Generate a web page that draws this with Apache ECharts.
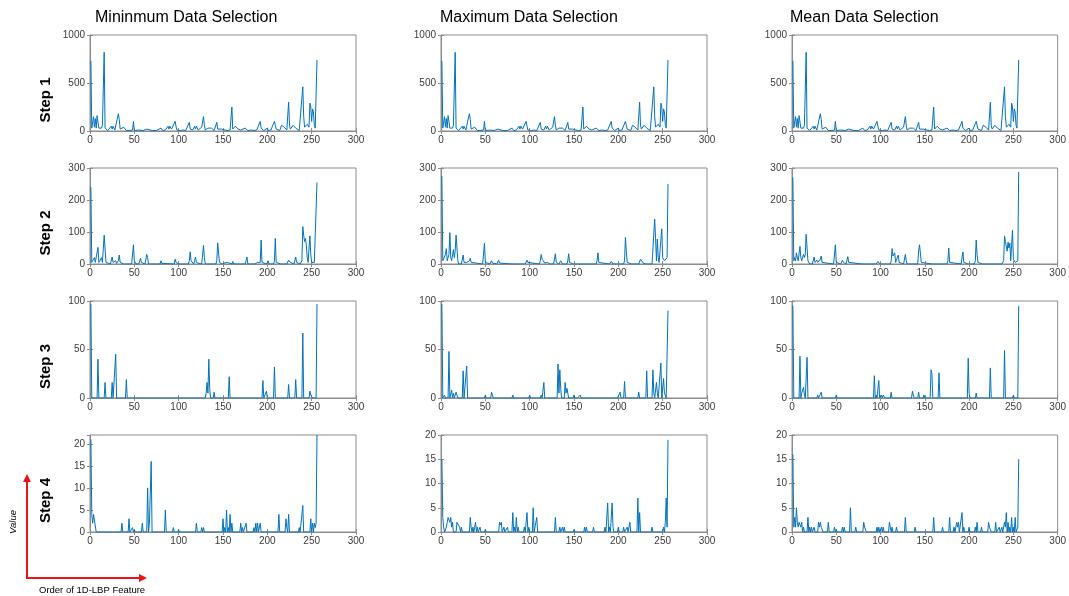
<!DOCTYPE html>
<html>
<head>
<meta charset="utf-8">
<script src="https://cdn.jsdelivr.net/npm/echarts@6/dist/echarts.min.js"></script>
<style>html,body{margin:0;padding:0;background:#fff}#c{width:1069px;height:596px}</style>
</head>
<body>
<div id="c"></div>
<script>
// ---------- DATA ----------
const columnTitles = ['Mininmum Data Selection', 'Maximum Data Selection', 'Mean Data Selection'];
const rowLabels = ['Step 1', 'Step 2', 'Step 3', 'Step 4'];
const xMax = 300, xStep = 50;
const yMaxes = [[1000, 1000, 1000], [300, 300, 300], [100, 100, 100], [22, 20, 20]];
const ySteps = [500, 100, 50, 5];

// Step 1 (identical in the three selections)
const step1 = [[1,730],[2,30],[3,20],[4,150],[5,40],[6,130],[7,30],[8,160],[9,170],[10,30],[11,40],[12,50],[13,30],[14,60],[15,40],[16,820],[17,30],[18,10],[20,5],[22,10],[24,50],[25,20],[26,50],[27,40],[28,10],[30,10],[32,180],[33,120],[34,20],[36,10],[38,40],[39,20],[40,30],[41,5],[44,5],[48,10],[49,100],[50,5],[55,10],[60,5],[64,20],[65,25],[66,5],[70,5],[75,5],[80,30],[81,35],[82,5],[85,10],[88,50],[89,20],[90,50],[91,60],[92,20],[94,30],[96,100],[97,50],[98,10],[100,20],[102,5],[105,10],[108,5],[112,90],[113,20],[114,10],[116,10],[118,50],[119,20],[120,50],[121,30],[122,10],[124,30],[126,40],[128,150],[129,60],[130,10],[132,20],[133,30],[135,20],[137,30],[138,10],[140,5],[143,90],[144,20],[145,5],[148,20],[150,5],[152,10],[155,5],[158,10],[160,250],[161,20],[162,10],[164,50],[165,30],[166,40],[167,20],[168,30],[170,10],[172,10],[175,30],[176,40],[177,20],[178,5],[182,10],[185,5],[188,10],[190,20],[192,100],[193,30],[194,10],[196,5],[198,10],[200,30],[201,5],[204,10],[206,20],[208,100],[209,60],[210,20],[212,10],[214,5],[216,60],[217,40],[218,60],[219,40],[220,30],[222,10],[224,300],[225,60],[226,20],[228,40],[229,60],[230,50],[231,70],[232,30],[234,10],[236,5],[238,10],[240,460],[241,150],[242,40],[243,60],[244,50],[245,70],[246,50],[247,40],[248,290],[249,250],[250,100],[251,230],[252,200],[253,60],[254,30],[255,40],[256,740]];

const step2Min = [[1,240],[2,5],[3,5],[4,10],[5,20],[6,5],[7,0],[8,5],[9,52],[10,5],[11,0],[12,5],[13,20],[14,5],[15,10],[16,90],[17,85],[18,5],[19,0],[23,0],[24,5],[25,22],[26,5],[27,0],[28,0],[29,10],[30,2],[31,5],[32,10],[33,28],[34,5],[35,0],[38,0],[39,5],[40,0],[47,0],[48,5],[49,60],[50,10],[51,8],[52,0],[55,0],[56,5],[57,18],[58,5],[59,0],[62,0],[63,5],[64,30],[65,20],[66,0],[79,0],[80,10],[81,2],[82,0],[95,0],[96,15],[97,5],[98,8],[99,2],[100,0],[111,0],[112,10],[113,38],[114,10],[115,15],[116,5],[117,0],[118,10],[119,22],[120,5],[121,0],[122,8],[123,2],[124,0],[126,0],[127,5],[128,58],[129,20],[130,0],[142,0],[143,10],[144,66],[145,65],[146,5],[147,0],[149,0],[150,5],[151,0],[152,3],[153,0],[154,0],[155,5],[156,0],[160,0],[161,8],[162,0],[175,0],[176,10],[177,22],[178,0],[186,0],[187,5],[188,0],[189,5],[190,0],[191,0],[192,5],[193,75],[194,5],[195,0],[199,0],[200,5],[201,10],[202,0],[207,0],[208,10],[209,80],[210,5],[211,0],[215,0],[216,5],[217,0],[222,0],[223,5],[224,12],[225,18],[226,5],[227,0],[230,0],[231,5],[232,22],[233,5],[234,0],[237,0],[238,5],[239,10],[240,117],[241,90],[242,70],[243,80],[244,60],[245,20],[246,5],[247,0],[248,88],[249,30],[250,5],[251,10],[252,8],[253,5],[254,10],[255,5],[256,255]];
const step2Max = [[1,275],[2,10],[3,5],[4,10],[5,30],[6,48],[7,10],[8,5],[9,30],[10,98],[11,20],[12,10],[13,15],[14,45],[15,20],[16,40],[17,90],[18,85],[19,10],[20,0],[23,0],[24,5],[25,28],[26,5],[27,0],[28,0],[29,5],[30,8],[31,3],[32,10],[33,18],[34,5],[35,0],[47,0],[48,5],[49,65],[50,5],[51,0],[55,0],[56,5],[57,10],[58,3],[59,0],[63,0],[64,5],[65,12],[66,3],[67,0],[80,0],[81,3],[82,0],[95,0],[96,5],[97,12],[98,5],[99,8],[100,0],[111,0],[112,10],[113,30],[114,15],[115,10],[116,12],[117,3],[118,0],[119,0],[120,5],[121,10],[122,3],[123,0],[127,0],[128,5],[129,32],[130,5],[131,0],[133,0],[134,5],[135,10],[136,5],[137,0],[142,0],[143,10],[144,32],[145,5],[146,0],[149,0],[150,5],[151,0],[158,0],[159,3],[160,5],[161,0],[175,0],[176,10],[177,35],[178,5],[179,0],[190,0],[191,3],[192,8],[193,3],[194,0],[198,0],[199,3],[200,5],[201,0],[206,0],[207,10],[208,83],[209,40],[210,5],[211,0],[215,0],[216,3],[217,0],[223,0],[224,5],[225,15],[226,10],[227,10],[228,3],[229,5],[230,5],[231,0],[232,5],[233,3],[234,0],[238,0],[239,5],[240,5],[241,140],[242,80],[243,10],[244,78],[245,20],[246,5],[247,0],[248,5],[249,110],[250,20],[251,15],[252,10],[253,10],[254,8],[255,20],[256,250]];
const step2Mean = [[1,270],[2,10],[3,20],[4,10],[5,35],[6,20],[7,10],[8,5],[9,55],[10,20],[11,10],[12,5],[13,30],[14,20],[15,30],[16,93],[17,88],[18,10],[19,5],[20,0],[23,0],[24,5],[25,22],[26,5],[27,5],[28,12],[29,5],[30,10],[31,5],[32,15],[33,25],[34,5],[35,0],[47,0],[48,5],[49,60],[50,5],[51,0],[55,0],[56,5],[57,12],[58,5],[59,3],[60,0],[61,0],[62,5],[63,23],[64,5],[65,0],[79,0],[80,3],[81,5],[82,0],[95,0],[96,5],[97,8],[98,3],[99,0],[100,5],[101,5],[102,0],[111,0],[112,10],[113,48],[114,25],[115,20],[116,35],[117,5],[118,0],[119,10],[120,28],[121,5],[122,0],[126,0],[127,5],[128,30],[129,10],[130,0],[142,0],[143,40],[144,60],[145,58],[146,5],[147,0],[158,0],[159,3],[160,5],[161,0],[175,0],[176,10],[177,50],[178,5],[179,0],[191,0],[192,5],[193,38],[194,5],[195,0],[199,0],[200,3],[201,5],[202,0],[206,0],[207,10],[208,75],[209,30],[210,5],[211,0],[215,0],[216,3],[217,5],[218,0],[223,0],[224,3],[225,5],[226,0],[237,0],[238,5],[239,10],[240,88],[241,70],[242,65],[243,40],[244,68],[245,50],[246,65],[247,10],[248,5],[249,105],[250,15],[251,10],[252,5],[253,5],[254,8],[255,10],[256,288]];

const step3Min = [[1,97],[2,0],[8,0],[9,40],[10,0],[16,0],[17,16],[18,0],[24,0],[25,16],[26,0],[28,0],[29,45],[30,0],[40,0],[41,19],[42,0],[49,0],[50,2],[51,0],[56,0],[57,2],[58,0],[60,0],[61,2],[62,0],[115,0],[116,2],[117,0],[130,0],[131,5],[132,16],[133,5],[134,40],[135,10],[136,0],[139,0],[140,6],[141,0],[147,0],[148,2],[149,2],[150,0],[156,0],[157,22],[158,0],[194,0],[195,18],[196,0],[198,0],[199,7],[200,0],[207,0],[208,32],[209,0],[223,0],[224,14],[225,0],[231,0],[232,19],[233,0],[239,0],[240,67],[241,0],[247,0],[248,7],[249,3],[250,2],[251,0],[255,0],[256,97]];
const step3Max = [[1,97],[2,0],[3,0],[4,3],[5,0],[6,2],[7,0],[8,0],[9,48],[10,0],[11,0],[12,8],[13,0],[14,5],[15,0],[16,0],[17,6],[18,3],[19,0],[24,0],[25,28],[26,0],[28,0],[29,33],[30,0],[40,0],[41,2],[42,0],[49,0],[50,3],[51,0],[56,0],[57,6],[58,5],[59,0],[80,0],[81,3],[82,0],[99,0],[100,3],[101,0],[112,0],[113,3],[114,0],[115,0],[116,16],[117,0],[120,0],[121,2],[122,0],[123,0],[124,2],[125,0],[131,0],[132,35],[133,5],[134,29],[135,10],[136,0],[139,0],[140,16],[141,5],[142,10],[143,9],[144,0],[149,0],[150,3],[151,0],[152,0],[153,2],[154,0],[156,0],[157,3],[158,0],[199,0],[200,2],[201,0],[202,6],[203,0],[206,0],[207,17],[208,0],[222,0],[223,6],[224,0],[231,0],[232,28],[233,0],[238,0],[239,29],[240,5],[241,0],[242,0],[243,16],[244,5],[245,0],[247,0],[248,36],[249,0],[250,0],[251,20],[252,5],[253,3],[254,0],[255,0],[256,90]];
const step3Mean = [[1,95],[2,0],[3,2],[4,0],[8,0],[9,43],[10,0],[11,5],[12,3],[13,11],[14,3],[15,0],[16,0],[17,42],[18,0],[19,0],[20,2],[21,0],[28,0],[29,3],[30,0],[32,0],[33,6],[34,0],[44,0],[45,2],[46,0],[49,0],[50,3],[51,0],[72,0],[73,1],[74,0],[75,0],[76,1],[77,0],[92,0],[93,23],[94,0],[95,3],[96,0],[97,0],[98,18],[99,0],[100,0],[101,3],[102,0],[103,3],[104,3],[105,0],[111,0],[112,6],[113,0],[135,0],[136,7],[137,3],[138,0],[142,0],[143,6],[144,0],[148,0],[149,3],[150,0],[156,0],[157,29],[158,25],[159,0],[165,0],[166,26],[167,0],[172,0],[173,2],[174,0],[195,0],[196,2],[197,0],[198,0],[199,41],[200,5],[201,0],[207,0],[208,5],[209,0],[223,0],[224,31],[225,0],[230,0],[231,2],[232,0],[239,0],[240,49],[241,0],[249,0],[250,3],[251,0],[252,2],[253,0],[255,0],[256,95]];

const step4Min = [[1,21],[2,4],[3,2],[4,4],[5,4],[6,4],[7,0],[35,0],[36,2],[37,0],[43,0],[44,3],[45,0],[47,0],[48,1],[49,0],[50,0.5],[51,0],[58,0],[59,2],[60,0],[64,0],[65,10],[66,0],[67,2],[68,2],[69,16],[70,0],[84,0],[85,5],[86,0],[93,0],[94,1],[95,0],[99,0],[100,0.5],[101,0],[119,0],[120,2],[121,0],[125,0],[126,1],[127,0],[128,1],[129,0],[149,0],[150,3],[151,0],[152,1],[153,0],[154,5],[155,0],[156,1],[157,0],[158,4],[159,0],[160,2],[161,0],[169,0],[170,2],[171,0],[172,1],[173,0],[175,0],[176,2],[177,0],[184,0],[185,1],[186,0],[187,2],[188,0],[189,2],[190,0],[191,0],[192,2],[193,0],[212,0],[213,4],[214,0],[220,0],[221,3],[222,1],[223,0],[224,4],[225,0],[235,0],[236,1],[237,0],[239,0],[240,6],[241,0],[248,0],[249,3],[250,0],[251,2],[252,0],[253,2],[254,1],[255,2],[256,22]];
const step4Max = [[1,15],[2,3],[3,1],[4,0],[5,0],[6,1],[7,2],[8,3],[9,3],[10,2],[11,3],[12,1],[13,2],[14,0],[17,0],[18,2],[19,2],[20,2],[21,1],[22,0],[23,1],[24,0],[32,0],[33,3],[34,1],[35,0],[36,1],[37,0],[38,1],[39,2],[40,0],[41,1],[42,0],[43,0],[44,1],[45,0],[49,0],[50,0.5],[51,0],[65,0],[66,2],[67,1.5],[68,2],[69,0],[70,0],[71,1],[72,0],[74,0],[75,1],[76,0],[80,0],[81,4],[82,0],[83,1],[84,0],[85,3],[86,0],[87,1],[88,0],[93,0],[94,1],[95,0],[96,0],[97,4],[98,0],[99,1],[100,0],[103,0],[104,5],[105,0],[107,0],[108,3],[109,0],[128,0],[129,3],[130,0],[133,0],[134,1],[135,0],[136,0],[137,1],[138,0],[139,1],[140,0],[149,0],[150,0.5],[151,0],[161,0],[162,1],[163,0],[164,1],[165,0],[171,0],[172,1],[173,0],[184,0],[185,1],[186,0],[187,0],[188,6],[189,0],[190,1],[191,0],[192,0],[193,6],[194,1],[195,0],[199,0],[200,1],[201,0],[205,0],[206,1],[207,0],[209,0],[210,1],[211,0],[212,0],[213,2],[214,0],[221,0],[222,7],[223,0],[224,4],[225,0],[237,0],[238,1],[239,0],[250,0],[251,1],[252,0],[253,2],[254,7],[255,1],[256,19]];
const step4Mean = [[1,16],[2,1],[3,3],[4,1],[5,5],[6,2],[7,1],[8,2],[9,2],[10,1],[11,2],[12,0],[13,1],[14,0],[17,0],[18,3],[19,0],[20,1],[21,0],[22,1],[23,0],[24,0],[25,1],[26,0],[29,0],[30,2],[31,1],[32,2],[33,1],[34,1],[35,0],[40,0],[41,2],[42,0],[47,0],[48,1],[49,0],[50,0.5],[51,0],[56,0],[57,1],[58,0],[59,1],[60,0],[65,0],[66,5],[67,0],[71,0],[72,1],[73,0],[80,0],[81,2],[82,1],[83,1],[84,0],[95,0],[96,1],[97,0],[98,1],[99,0],[100,0],[101,1],[102,0],[103,1],[104,0],[109,0],[110,2],[111,1],[112,0],[113,1],[114,0],[117,0],[118,1],[119,0],[127,0],[128,3],[129,0],[138,0],[139,1],[140,0],[159,0],[160,3],[161,0],[169,0],[170,1],[171,0],[177,0],[178,3],[179,0],[182,0],[183,1],[184,0],[185,0],[186,2],[187,1],[188,2],[189,0],[191,0],[192,4],[193,0],[194,1],[195,0],[199,0],[200,1],[201,0],[206,0],[207,1],[208,0],[209,2],[210,0],[213,0],[214,1],[215,0],[221,0],[222,2],[223,1],[224,1],[225,0],[229,0],[230,2],[231,0],[233,0],[234,1],[235,0],[236,0],[237,1],[238,0],[239,0],[240,2],[241,1],[242,4],[243,0],[244,2],[245,0],[246,1],[247,0],[248,3],[249,0],[250,1],[251,0],[252,3],[253,0],[254,0],[255,1],[256,15]];

const seriesByCell = [
  [step1, step1, step1],
  [step2Min, step2Max, step2Mean],
  [step3Min, step3Max, step3Mean],
  [step4Min, step4Max, step4Mean]
];

// ---------- LAYOUT ----------
const colLeft = [90, 441, 792];
const colWidth = [266, 266, 267];
const rowTop = [35, 168, 301, 435];
const rowHeight = [96, 96, 97, 97];
const LINE = '#0072BD';
const AXIS = '#8c8c8c';
const LABEL = '#3a3a3a';
const FONT = '"Liberation Sans", Arial, sans-serif';

const grid = [], xAxis = [], yAxis = [], series = [];
let g = 0;
for (let r = 0; r < 4; r++) {
  for (let c = 0; c < 3; c++) {
    grid.push({left: colLeft[c], top: rowTop[r], width: colWidth[c], height: rowHeight[r],
      show: true, borderColor: AXIS, borderWidth: 1, backgroundColor: '#fff'});
    const tickStyle = {show: true, inside: true, length: 3, lineStyle: {color: AXIS}};
    const lbl = {color: LABEL, fontSize: 10, fontFamily: FONT, formatter: v => String(v)};
    xAxis.push({gridIndex: g, type: 'value', min: 0, max: xMax, interval: xStep,
      axisLine: {show: true, onZero: false, lineStyle: {color: AXIS}},
      axisTick: tickStyle, splitLine: {show: false},
      axisLabel: Object.assign({margin: 4}, lbl)});
    xAxis.push({gridIndex: g, type: 'value', position: 'top', min: 0, max: xMax, interval: xStep,
      axisLine: {show: false}, axisTick: tickStyle, splitLine: {show: false}, axisLabel: {show: false}});
    yAxis.push({gridIndex: g, type: 'value', min: 0, max: yMaxes[r][c], interval: ySteps[r],
      axisLine: {show: true, onZero: false, lineStyle: {color: AXIS}},
      axisTick: tickStyle, splitLine: {show: false},
      axisLabel: Object.assign({margin: 5, showMaxLabel: yMaxes[r][c] % ySteps[r] === 0}, lbl)});
    yAxis.push({gridIndex: g, type: 'value', position: 'right', min: 0, max: yMaxes[r][c], interval: ySteps[r],
      axisLine: {show: false}, axisTick: tickStyle, splitLine: {show: false}, axisLabel: {show: false}});
    series.push({type: 'line', xAxisIndex: 2 * g, yAxisIndex: 2 * g, data: seriesByCell[r][c],
      showSymbol: false, symbol: 'none', clip: true, animation: false,
      lineStyle: {color: LINE, width: 1}});
    g++;
  }
}

const graphic = [];
const titleX = [95, 440, 790];
columnTitles.forEach((t, i) => graphic.push({type: 'text', x: titleX[i], y: 18,
  style: {text: t, font: '16px ' + FONT, fill: '#000', textAlign: 'left', textVerticalAlign: 'middle'}}));
rowLabels.forEach((t, i) => graphic.push({type: 'text', x: 46, y: rowTop[i] + rowHeight[i] / 2 + 17, rotation: Math.PI / 2,
  style: {text: t, font: 'bold 15px ' + FONT, fill: '#000', textAlign: 'center', textVerticalAlign: 'middle'}}));
// red axis-legend arrows
const RED = '#e8141b';
graphic.push({type: 'polyline', shape: {points: [[27, 579], [27, 481]]}, style: {stroke: RED, lineWidth: 2}});
graphic.push({type: 'polygon', shape: {points: [[23, 482], [31, 482], [27, 474]]}, style: {fill: RED}});
graphic.push({type: 'polyline', shape: {points: [[26, 578], [140, 578]]}, style: {stroke: RED, lineWidth: 2}});
graphic.push({type: 'polygon', shape: {points: [[139, 574], [139, 582], [147, 578]]}, style: {fill: RED}});
graphic.push({type: 'text', x: 13, y: 522, rotation: Math.PI / 2,
  style: {text: 'Value', font: 'italic 9.5px ' + FONT, fill: '#000', textAlign: 'center', textVerticalAlign: 'middle'}});
graphic.push({type: 'text', x: 39, y: 590,
  style: {text: 'Order of 1D-LBP Feature', font: '9.5px ' + FONT, fill: '#000', textAlign: 'left', textVerticalAlign: 'middle'}});

const chart = echarts.init(document.getElementById('c'), null, {renderer: 'canvas'});
chart.setOption({animation: false, backgroundColor: '#fff', grid, xAxis, yAxis, series, graphic});
</script>
</body>
</html>
